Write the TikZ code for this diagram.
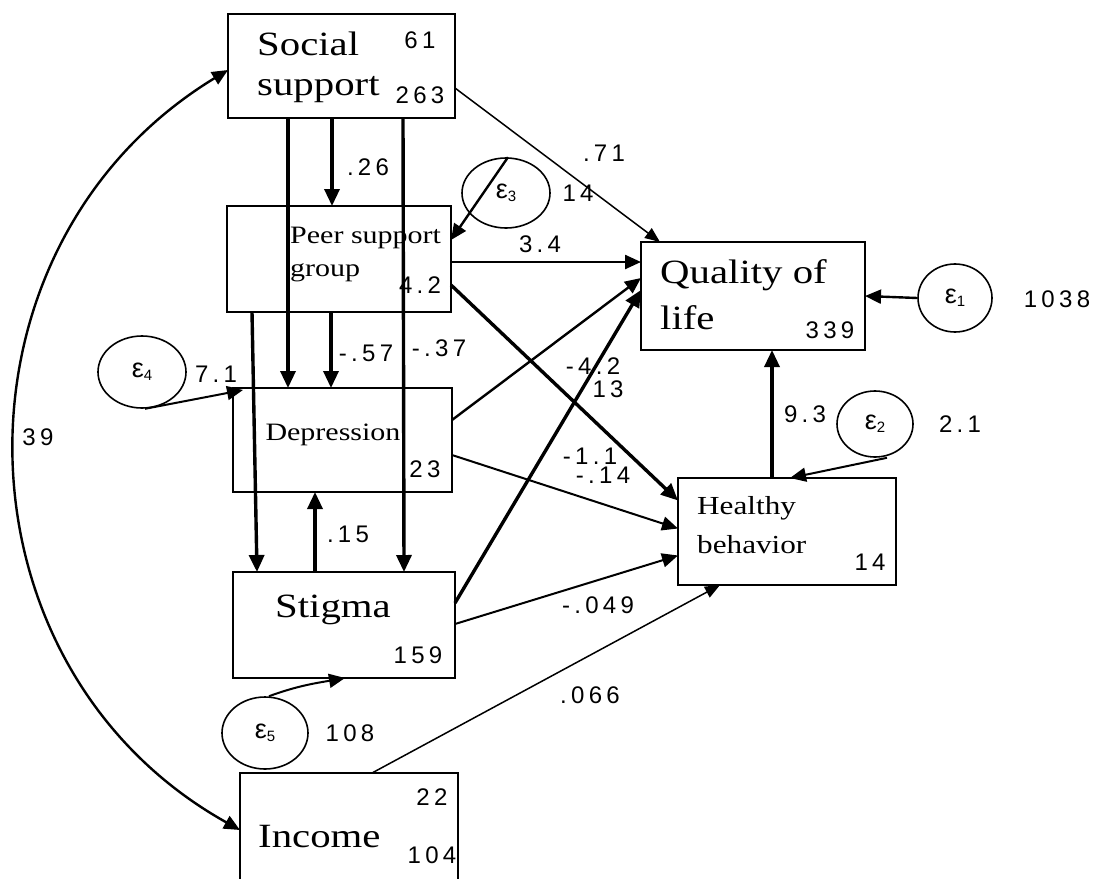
\documentclass[tikz,border=0pt]{standalone}
\usepackage{fontspec}
\setmainfont{Liberation Serif}[FakeStretch=1.2]
\newfontfamily\numfont{Liberation Sans}[LetterSpace=18]
\newfontfamily\epsfont{Liberation Sans}
\usetikzlibrary{arrows.meta,shapes.geometric}
\newcommand\errlab[1]{{\epsfont\fontsize{27}{27}\selectfont ε\raisebox{-3pt}{\fontsize{15}{15}\selectfont #1}}}
\begin{document}
\begin{tikzpicture}[x=1pt,y=1pt,
  box/.style={draw,line width=2.8pt,inner sep=0pt,outer sep=0pt},
  errc/.style={draw,ellipse,line width=1.6pt,inner sep=0pt},
  big/.style={font=\fontsize{34}{34}\selectfont,inner sep=0pt,anchor=west},
  small/.style={font=\fontsize{25}{25}\selectfont,inner sep=0pt,anchor=west},
  num/.style={font=\numfont\fontsize{24}{24}\selectfont,inner sep=0pt},
  tk/.style={line width=3.4pt,-{Triangle[length=17pt,width=15pt]}},
  md/.style={line width=2.4pt,-{Triangle[length=16pt,width=14pt]}},
  tn/.style={line width=1.5pt,-{Triangle[length=15pt,width=12pt]}}]
\path[use as bounding box] (0,0) rectangle (1097,-878);
\clip (0,0) rectangle (1097,-878);
\fill[white] (0,0) rectangle (1097,-878);

% boxes
\node[box,minimum width=227pt,minimum height=104pt] (ss) at (341.5,-66) {};
\node[box,minimum width=224pt,minimum height=106pt] (peer) at (339,-259) {};
\node[box,minimum width=219pt,minimum height=104pt] (dep) at (342.5,-440) {};
\node[box,minimum width=222pt,minimum height=106pt] (stig) at (344,-625) {};
\node[box,minimum width=218pt,minimum height=116pt] (inc) at (349,-831) {};
\node[box,minimum width=224pt,minimum height=108pt] (qol) at (753,-296) {};
\node[box,minimum width=218pt,minimum height=107pt] (hb) at (787,-531.5) {};

% error terms
\node[errc,minimum width=74pt,minimum height=68pt] (e1) at (955,-298) {\errlab{1}};
\node[errc,minimum width=76pt,minimum height=66pt] (e2) at (875,-424) {\errlab{2}};
\node[errc,minimum width=88pt,minimum height=70pt] (e3) at (506,-193) {\errlab{3}};
\node[errc,minimum width=88pt,minimum height=72pt] (e4) at (142,-372) {\errlab{4}};
\node[errc,minimum width=86pt,minimum height=72pt] (e5) at (265,-733) {\errlab{5}};

% box texts
\node[big] (tsoc) at (257,-44) {Social};
\node[big] (tsup) at (257,-90) {support};
\node[small] (tpeer) at (290,-238) {Peer support};
\node[small] (tgrp) at (290,-273) {group};
\node[small,anchor=center] (tdep) at (333,-435) {Depression};
\node[big,anchor=center] (tstig) at (333,-610) {Stigma};
\node[big] (tinc) at (258,-837) {Income};
\node[big] (tqol) at (660,-275) {Quality of};
\node[big] (tlife) at (660,-318) {life};
\node[small,font=\fontsize{26}{26}\selectfont] (thea) at (697,-508) {Healthy};
\node[small,font=\fontsize{26}{26}\selectfont] (tbeh) at (697,-545) {behavior};

% vertical paths
\draw[tk] ([xshift=104pt]ss.south west) -- ([xshift=105pt]peer.north west);
\draw[tk] ([xshift=60pt]ss.south west) -- ([xshift=55pt]dep.north west);
\draw[tk] ([xshift=175pt]ss.south west) -- ([xshift=171pt]stig.north west);
\draw[tk] ([xshift=104pt]peer.south west) -- ([xshift=98pt]dep.north west);
\draw[tk] ([xshift=25pt]peer.south west) -- ([xshift=24pt]stig.north west);
\draw[tk] ([xshift=82pt]stig.north west) -- ([xshift=82pt]dep.south west);
\draw[tk] ([xshift=94pt]hb.north west) -- ([xshift=131pt]qol.south west);

% paths to outcomes
\draw[tn] ([yshift=-22pt]ss.east) -- ([xshift=19pt]qol.north west);
\draw[md] ([yshift=-3pt]peer.east) -- ([yshift=34pt]qol.west);
\draw[tk] ([yshift=-26pt]peer.east) -- ([yshift=31pt]hb.west);
\draw[md] ([yshift=20pt]dep.east) -- ([yshift=18pt]qol.west);
\draw[tk] ([yshift=22pt]stig.east) -- ([yshift=6pt]qol.west);
\draw[md,line width=2pt] ([yshift=-15pt]dep.east) -- ([yshift=3pt]hb.west);
\draw[md,line width=2pt] ([yshift=1pt]stig.east) -- ([yshift=-24pt]hb.west);
\draw[tn] ([xshift=132pt]inc.north west) -- ([xshift=42pt]hb.south west);

% error arrows
\draw[md] (e1.west) -- (qol.east);
\draw[md,line width=2pt] ([xshift=12pt]e2.south) -- ([xshift=112pt]hb.north west);
\draw[md] ([xshift=2pt]e3.north) -- ([yshift=19pt]peer.east);
\draw[md,line width=2pt] ([xshift=3pt]e4.south) -- ([xshift=10pt,yshift=-2pt]dep.north west);
\draw[md,line width=2pt] ([xshift=4pt]e5.north) to[out=20,in=190] ([xshift=112pt]stig.south west);

% covariance
\draw[line width=2.4pt,{Triangle[length=16pt,width=14pt]}-{Triangle[length=16pt,width=14pt]}]
  ([yshift=-4pt]ss.west) .. controls +(211.3:337) and +(150.8:337) .. ([yshift=1pt]inc.west);

% numbers
\node[num] (n61) at (420,-40) {61};
\node[num] (n263) at (420,-95) {263};
\node[num] (n26) at (368,-167) {.26};
\node[num] (n71) at (604,-153) {.71};
\node[num] (n14a) at (578,-193) {14};
\node[num] (n34) at (540,-244) {3.4};
\node[num] (n42) at (420,-285) {4.2};
\node[num] (n57) at (366,-353) {-.57};
\node[num] (n37) at (439,-348) {-.37};
\node[num] (n71b) at (216,-374) {7.1};
\node[num] (n15) at (348,-534) {.15};
\node[num] (n23) at (425,-469) {23};
\node[num] (nm42) at (593,-366) {-4.2};
\node[num] (n13) at (608,-389) {13};
\node[num] (nm11) at (590,-456) {-1.1};
\node[num] (nm14) at (603,-475) {-.14};
\node[num] (n93) at (805,-414) {9.3};
\node[num] (n21) at (960,-424) {2.1};
\node[num] (n1038) at (1057,-299) {1038};
\node[num] (n339) at (830,-330) {339};
\node[num] (n14b) at (870,-562) {14};
\node[num] (n049) at (598,-605) {-.049};
\node[num] (n066) at (590,-695) {.066};
\node[num] (n159) at (418,-655) {159};
\node[num] (n108) at (350,-733) {108};
\node[num] (n22) at (432,-797) {22};
\node[num] (n104) at (432,-855) {104};
\node[num] (n39) at (38,-437) {39};
\end{tikzpicture}
\end{document}
